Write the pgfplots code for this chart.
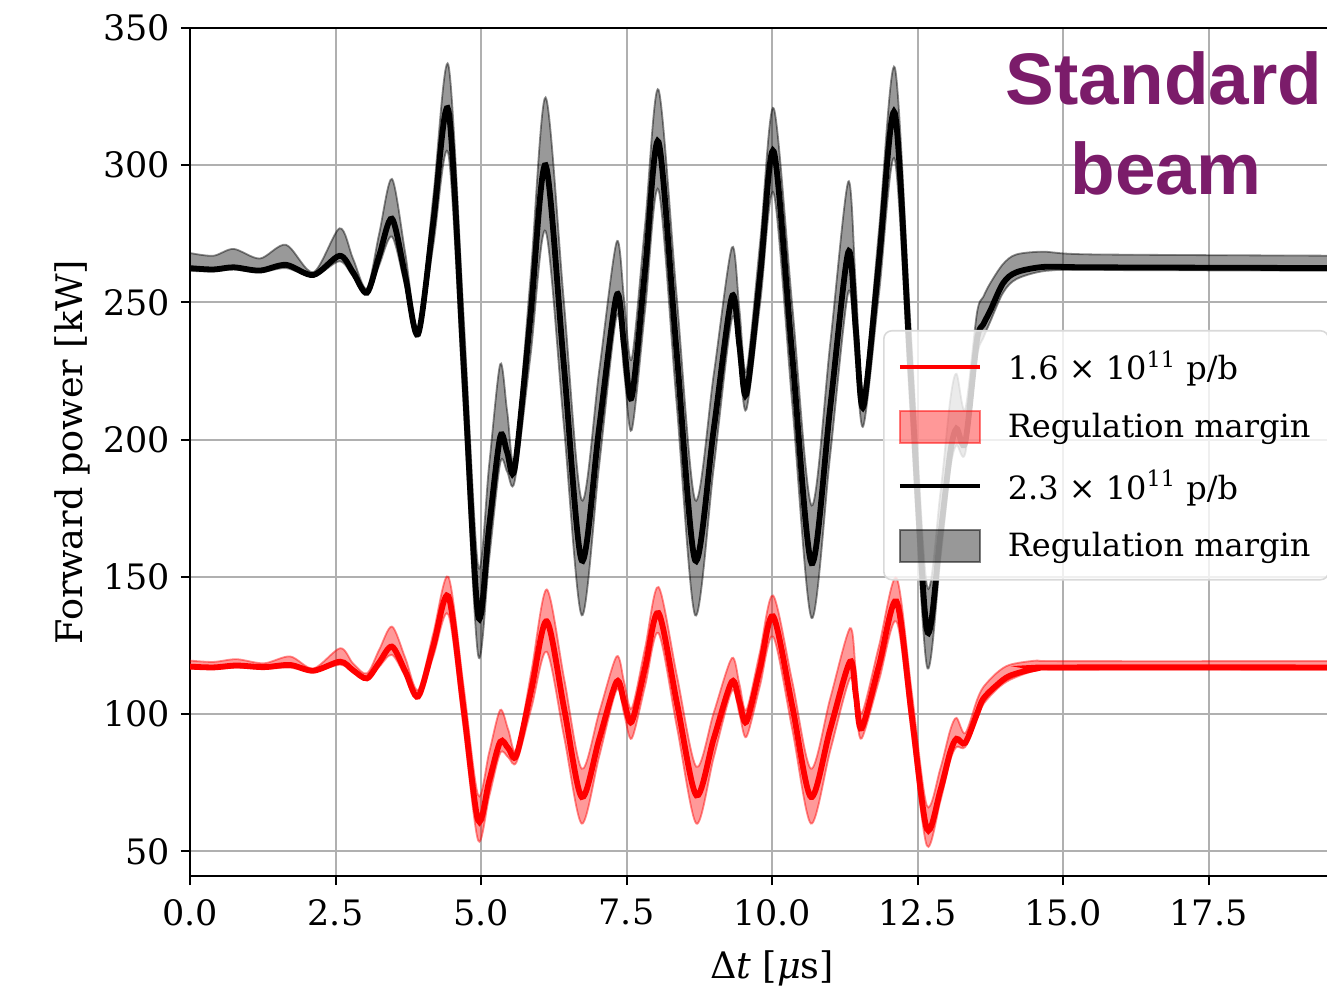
\documentclass[border=0pt]{standalone}
\usepackage{pgfplots}
\pgfplotsset{compat=1.18}
\usepackage{pgfplotstable}
\usepgfplotslibrary{fillbetween}
\usepackage{fontspec}
\setmainfont{DejaVu Serif}
\newfontfamily\titlefont{Liberation Sans}
\definecolor{beamcol}{RGB}{123,28,106}
\definecolor{gridcol}{RGB}{176,176,176}
\pgfplotsset{
  linelegend/.style={legend image code/.code={\draw[##1] (0pt,0pt) -- (40pt,0pt);}},
  arealegend/.style={legend image code/.code={\draw[##1, sharp corners] (0pt,-8pt) rectangle (40pt,8pt);}},
}
\pgfplotstableread{
x c l u
0.00 262.5 261.5 268.0
0.40 262.0 261.3 267.0
0.75 262.8 262.0 269.5
1.20 261.6 261.0 266.0
1.65 263.7 262.5 271.0
2.12 260.0 259.5 261.0
2.57 267.0 265.0 277.0
2.80 261.0 259.5 266.0
3.04 253.5 253.0 255.0
3.25 267.0 263.5 275.0
3.47 280.5 274.0 295.0
3.70 259.5 255.8 267.8
3.92 238.5 237.5 240.5
4.18 279.3 270.8 288.5
4.44 320.0 304.0 336.5
4.70 228.0 212.8 245.3
4.95 136.0 121.5 154.0
5.14 168.5 156.5 190.8
5.33 201.0 191.5 227.5
5.45 195.4 188.3 210.3
5.58 189.7 185.0 193.0
5.85 244.9 230.5 258.9
6.11 300.0 276.0 324.7
6.42 228.0 206.0 251.4
6.73 156.0 136.0 178.0
7.03 204.3 190.5 225.0
7.33 252.5 245.0 272.0
7.46 234.0 224.3 250.8
7.59 215.5 203.5 229.5
7.82 262.0 247.3 278.5
8.05 308.5 291.0 327.5
8.36 232.3 213.5 252.8
8.68 156.0 136.0 178.0
9.00 204.0 190.0 224.0
9.31 252.0 244.0 270.0
9.44 234.3 227.5 247.5
9.56 216.6 211.0 225.0
9.80 260.8 250.4 272.9
10.03 305.0 289.7 320.7
10.35 230.0 212.4 248.4
10.68 155.0 135.0 176.0
11.00 211.7 194.4 235.0
11.31 268.3 253.7 294.0
11.44 240.2 229.4 256.0
11.57 212.0 205.0 218.0
11.84 265.5 253.5 276.8
12.11 319.0 302.0 335.6
12.38 224.9 209.8 241.3
12.66 130.8 117.5 147.0
12.89 165.0 156.0 180.0
13.06 195.0 189.0 214.0
13.17 204.0 198.0 224.0
13.32 199.0 195.0 211.0
13.52 236.0 230.0 246.0
13.63 242.0 237.0 252.0
13.75 247.0 243.0 257.0
13.97 257.0 253.5 264.0
14.20 261.0 258.5 267.5
14.70 263.0 261.5 268.5
15.50 262.8 261.8 267.5
20.00 262.5 261.5 267.0
}\blktab
\pgfplotstableread{
x c l u
0.00 117.3 116.6 119.5
0.40 117.0 116.4 119.0
0.80 117.7 116.9 120.0
1.27 117.1 116.5 118.5
1.72 117.9 116.9 121.0
2.12 115.8 115.4 116.6
2.58 119.1 118.0 124.0
2.80 116.0 115.4 118.5
3.04 113.0 112.6 114.8
3.25 118.8 117.2 123.4
3.47 124.6 121.6 131.9
3.70 115.5 113.7 120.4
3.92 106.4 105.8 108.8
4.18 124.7 121.0 129.4
4.44 142.9 136.2 150.0
4.70 102.1 95.1 110.3
4.95 61.3 54.0 70.5
5.14 75.6 69.9 86.0
5.33 89.9 85.8 101.5
5.47 87.5 84.2 94.2
5.61 85.0 82.5 86.8
5.87 109.4 102.6 116.1
6.13 133.8 122.7 145.4
6.43 101.8 91.4 112.8
6.73 69.8 60.1 80.1
7.03 90.8 84.5 100.6
7.33 111.8 108.8 121.0
7.46 104.5 100.0 111.6
7.59 97.2 91.1 102.1
7.82 117.0 110.3 124.2
8.05 136.8 129.5 146.3
8.37 103.6 94.8 113.6
8.70 70.4 60.1 80.8
9.00 91.1 84.3 100.6
9.31 111.8 108.4 120.4
9.44 104.5 100.1 111.0
9.56 97.2 91.7 101.5
9.79 116.4 110.0 122.4
10.02 135.6 128.2 143.2
10.35 102.7 94.2 111.7
10.67 69.8 60.1 80.1
11.00 94.5 86.6 105.7
11.34 119.1 113.0 131.3
11.44 107.0 102.1 115.8
11.54 94.8 91.1 100.3
11.84 117.9 112.4 125.0
12.14 141.0 133.7 149.6
12.40 99.6 92.9 108.2
12.66 58.2 52.1 66.7
12.89 72.0 68.0 80.0
13.06 86.0 83.0 94.0
13.17 91.0 88.0 98.6
13.32 89.5 88.0 93.0
13.52 100.0 98.0 105.0
13.63 105.6 103.5 109.8
13.86 110.5 109.0 115.0
14.09 114.0 112.5 118.0
14.55 116.6 116.0 119.5
15.00 117.0 116.2 119.3
20.00 117.0 116.2 119.3
}\redtab
\begin{document}
\begin{tikzpicture}
\begin{axis}[
  at={(0,0)}, anchor=south west,
  scale only axis, width=582pt, height=424pt,
  xmin=0, xmax=20, ymin=41, ymax=350,
  xtick={0,2.5,5,7.5,10,12.5,15,17.5},
  xticklabels={0.0,2.5,5.0,7.5,10.0,12.5,15.0,17.5},
  ytick={50,100,150,200,250,300,350},
  grid=major, major grid style={color=gridcol, line width=1pt},
  tick align=outside, tick pos=left, major tick length=4.5pt,
  tick style={black, line width=1pt},
  axis line style={black, line width=1.2pt},
  /pgf/number format/assume math mode=true,
  tick label style={font=\fontsize{17.5}{20}\selectfont},
  xticklabel style={yshift=-3.5pt},
  yticklabel style={xshift=-2pt},
  xlabel={Δ\textit{t} [\textit{μ}s]}, ylabel={Forward power [kW]},
  label style={font=\fontsize{18.3}{21}\selectfont},
  xlabel style={at={(axis description cs:0.5,-0.1203)}, anchor=base},
  ylabel style={at={(axis description cs:-0.1014,0.5)}, anchor=center},
  legend style={at={(0.5954,0.6439)}, anchor=north west, draw=black!15,
    line width=0.8pt, rounded corners=4pt, fill=white, fill opacity=0.8,
    text opacity=1, font=\fontsize{16}{19}\selectfont,
    inner xsep=7pt, inner ysep=8pt, row sep=11pt, column sep=11pt},
  legend cell align=left,
]
% red band
\addplot[name path=RU, red, draw opacity=0.45, line width=0.9pt, smooth, forget plot] table[x=x,y=u]{\redtab};
\addplot[name path=RL, red, draw opacity=0.45, line width=0.9pt, smooth, forget plot] table[x=x,y=l]{\redtab};
\addplot[fill=red, fill opacity=0.4, draw=none, forget plot] fill between[of=RU and RL];
\addplot[red, line width=2.9pt, smooth, forget plot] table[x=x,y=c]{\redtab};
% black band
\addplot[name path=BU, black, draw opacity=0.45, line width=0.9pt, smooth, forget plot] table[x=x,y=u]{\blktab};
\addplot[name path=BL, black, draw opacity=0.45, line width=0.9pt, smooth, forget plot] table[x=x,y=l]{\blktab};
\addplot[fill=black, fill opacity=0.4, draw=none, forget plot] fill between[of=BU and BL];
\addplot[black, line width=2.9pt, smooth, forget plot] table[x=x,y=c]{\blktab};
% legend
\addlegendimage{linelegend, red, line width=2pt}
\addlegendentry{1.6 × 10\textsuperscript{11} p/b}
\addlegendimage{arealegend, draw=red, draw opacity=0.5, fill=red, fill opacity=0.4, line width=1pt}
\addlegendentry{Regulation margin}
\addlegendimage{linelegend, black, line width=2pt}
\addlegendentry{2.3 × 10\textsuperscript{11} p/b}
\addlegendimage{arealegend, draw=black, draw opacity=0.5, fill=black, fill opacity=0.4, line width=1pt}
\addlegendentry{Regulation margin}
\end{axis}
\node[anchor=base, text=beamcol, font={\titlefont\bfseries\fontsize{36.5}{40}\selectfont}] at (487pt,385.5pt) {Standard};
\node[anchor=base, text=beamcol, font={\titlefont\bfseries\fontsize{36.5}{40}\selectfont}] at (488pt,340.5pt) {beam};
\pgfresetboundingbox
\useasboundingbox (-95pt,-54.5pt) rectangle (568.5pt,438pt);
\end{tikzpicture}
\end{document}
